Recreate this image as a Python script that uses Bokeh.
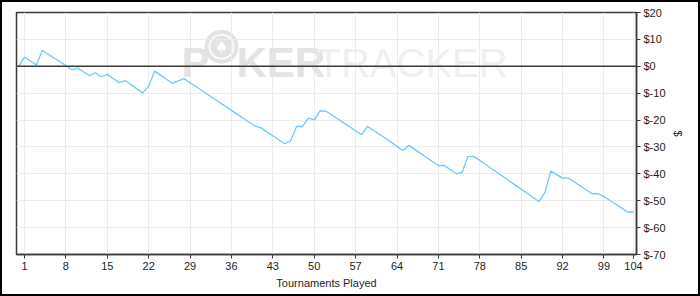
from bokeh.plotting import figure
from bokeh.models import Range1d, FixedTicker, Span, Label
from bokeh.core.properties import value
from bokeh.embed import file_html
from bokeh.resources import INLINE

# ---- data -------------------------------------------------------------
tournaments = list(range(0, 105))
winnings = [
    0.0, 3.4, 1.95, 0.5, 5.9, 4.5, 3.1, 1.7, 0.3, -1.3,            # 0-9
    -0.7, -2.1, -3.5, -2.4, -3.9, -3.0, -4.55, -6.1, -5.3, -6.8,   # 10-19
    -8.4, -9.9, -7.4, -1.8, -3.3, -4.8, -6.3, -5.45, -4.6, -6.1,   # 20-29
    -7.55, -9.0, -10.5, -12.0, -13.45, -14.9, -16.4, -17.9, -19.35, -20.8,  # 30-39
    -22.3, -22.9, -24.4, -25.85, -27.3, -28.8, -27.8, -22.4, -22.4, -19.3,  # 40-49
    -19.9, -16.6, -16.7, -18.15, -19.6, -21.05, -22.5, -23.95, -25.4, -22.3,  # 50-59
    -23.8, -25.3, -26.7, -28.2, -29.8, -31.3, -29.4, -30.9, -32.4, -33.9,  # 60-69
    -35.4, -36.9, -36.9, -38.4, -40.0, -39.5, -33.5, -33.5, -35.0, -36.5,  # 70-79
    -38.1, -39.6, -41.1, -42.7, -44.2, -45.7, -47.2, -48.8, -50.3, -47.0,  # 80-89
    -39.0, -40.3, -41.6, -41.6, -43.05, -44.5, -45.95, -47.4, -47.4, -48.4,  # 90-99
    -49.9, -51.3, -52.75, -54.2, -54.2,                            # 100-104
]
assert len(winnings) == len(tournaments)

x_ticks = [1, 8, 15, 22, 29, 36, 43, 50, 57, 64, 71, 78, 85, 92, 99, 104]
y_ticks = [20, 10, 0, -10, -20, -30, -40, -50, -60, -70]
y_tick_labels = ["$20", "$10", "$0", "$-10", "$-20", "$-30", "$-40", "$-50", "$-60", "$-70"]

x_label = "Tournaments Played"
y_label = "$"

FONT = "Liberation Sans"
TXT = "#1e1e1e"
AX = "#3a3a3a"

p = figure(
    frame_width=620, frame_height=242,
    output_backend="svg", toolbar_location=None,
    x_range=Range1d(-0.353, 104.5), y_range=Range1d(-70, 20),
    y_axis_location="right",
    min_border_left=14, min_border_top=10, min_border_right=62, min_border_bottom=40,
    background_fill_color="white", border_fill_color="white",
)
p.styles = {"border": "2px solid black"}
p.outline_line_color = AX
p.outline_line_width = 1.5

# ---- watermark ----------------------------------------------------------
def px_x(px):
    return 1 + (px - 24) / 5.913

def px_y(py):
    return (65.7 - py) / 2.696

wm_bold = "#e3e3e3"
wm_light = "#efefef"
p.add_layout(Label(x=px_x(181), y=px_y(62), text="P", text_font=FONT, text_font_size="42px",
                   text_font_style="bold", text_color=wm_bold, text_baseline="alphabetic", level="underlay"))
p.scatter(x=[px_x(221)], y=[px_y(46)], size=34, marker="circle", fill_color=wm_bold, line_color=None, level="underlay")
p.scatter(x=[px_x(221)], y=[px_y(46)], size=24, marker="circle", fill_color=None, line_color="white",
          line_width=1.5, level="underlay")
p.text(x=[px_x(221)], y=[px_y(46)], text=["\u2660"], text_font=value("DejaVu Sans"), text_font_size="15px",
       text_color="white", text_align="center", text_baseline="middle", level="underlay")
p.add_layout(Label(x=px_x(236), y=px_y(62), text="KER", text_font=FONT, text_font_size="42px",
                   text_font_style="bold", text_color=wm_bold, text_baseline="alphabetic", level="underlay"))
p.add_layout(Label(x=px_x(316), y=px_y(62), text="TRACKER", text_font=FONT, text_font_size="40px",
                   text_color=wm_light, text_baseline="alphabetic", level="underlay"))

# ---- zero line and data ------------------------------------------------------
p.add_layout(Span(location=0, dimension="width", line_color=AX, line_width=1.6))
p.line(tournaments, winnings, line_color="#6ec8ff", line_width=1.3)

# ---- axes -------------------------------------------------------------
p.xaxis.ticker = FixedTicker(ticks=x_ticks)
p.yaxis.ticker = FixedTicker(ticks=y_ticks)
p.yaxis.major_label_overrides = {v: s for v, s in zip(y_ticks, y_tick_labels)}
p.xaxis.axis_label = x_label
p.yaxis.axis_label = y_label

for ax in (p.xaxis[0], p.yaxis[0]):
    ax.axis_line_color = AX
    ax.axis_line_width = 1.5
    ax.major_tick_line_color = AX
    ax.major_tick_out = 4
    ax.major_tick_in = 0
    ax.minor_tick_line_color = None
    ax.major_label_text_font = FONT
    ax.major_label_text_font_size = "11px"
    ax.major_label_text_color = TXT
    ax.major_label_standoff = 3
    ax.axis_label_text_font = FONT
    ax.axis_label_text_font_size = "11px"
    ax.axis_label_text_font_style = "normal"
    ax.axis_label_text_color = TXT
p.xaxis.axis_label_standoff = 4
p.yaxis.axis_label_standoff = 3

p.xgrid.grid_line_color = "#ececec"
p.ygrid.grid_line_color = "#ececec"
p.xgrid.grid_line_width = 1
p.ygrid.grid_line_width = 1

open("out.html", "w").write(file_html(p, INLINE))
